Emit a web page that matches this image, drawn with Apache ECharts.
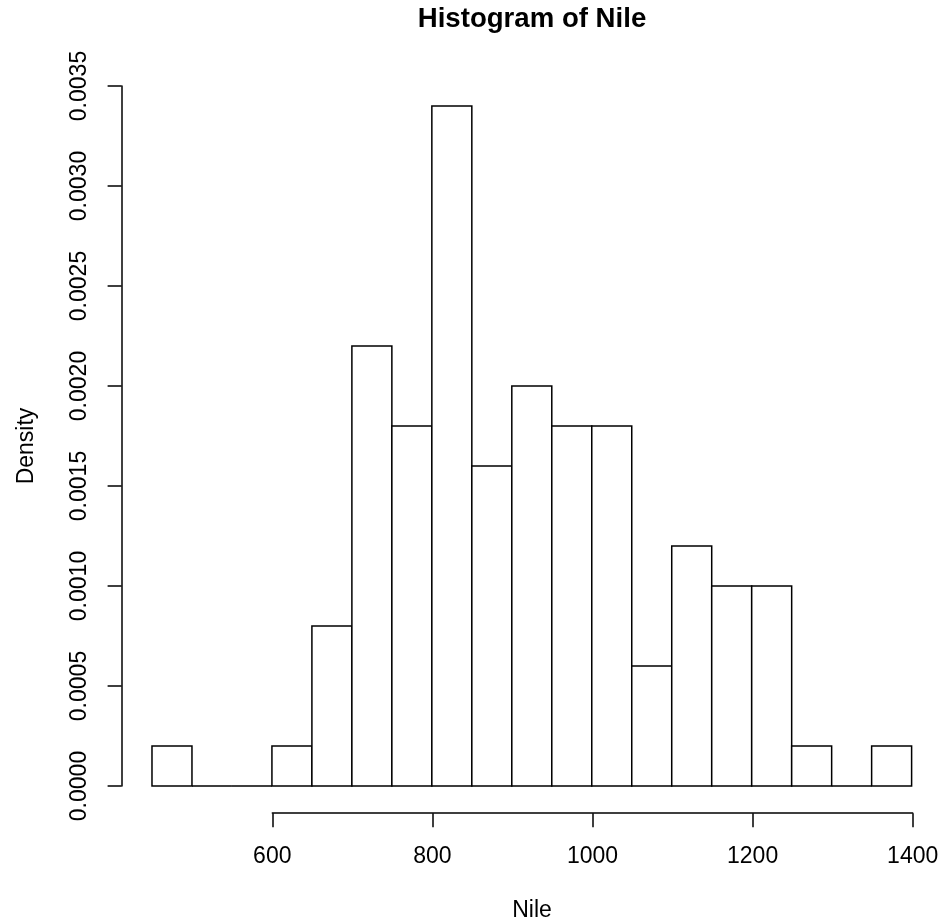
<!DOCTYPE html>
<html>
<head>
<meta charset="utf-8">
<title>Histogram of Nile</title>
<script src="https://cdn.jsdelivr.net/npm/echarts@6/dist/echarts.min.js"></script>
<style>
  html, body { margin: 0; padding: 0; background: #ffffff; }
  #chart { width: 942px; height: 924px; }
</style>
</head>
<body>
<div id="chart"></div>
<script>
// histogram bins (left / right break) and density per bin
var binStart = [450, 500, 550, 600, 650, 700, 750, 800, 850, 900, 950, 1000, 1050, 1100, 1150, 1200, 1250, 1300, 1350];
var binEnd   = [500, 550, 600, 650, 700, 750, 800, 850, 900, 950, 1000, 1050, 1100, 1150, 1200, 1250, 1300, 1350, 1400];
var density  = [0.0002, 0, 0, 0.0002, 0.0008, 0.0022, 0.0018, 0.0034, 0.0016, 0.0020, 0.0018, 0.0018, 0.0006, 0.0012, 0.0010, 0.0010, 0.0002, 0, 0.0002];

var font = '"Liberation Sans", Arial, Helvetica, sans-serif';

var bars = binStart.map(function (s, i) { return [s, binEnd[i], density[i]]; });

var chart = echarts.init(document.getElementById('chart'));

chart.setOption({
  backgroundColor: '#ffffff',
  animation: false,
  textStyle: { fontFamily: font, color: '#000' },
  grid: [
    // plot region (bars + y axis)
    { left: 121.6, right: -1, top: 86, bottom: 138 },
    // x axis sits below, only spans the pretty ticks
    { left: 272.3, right: 29.3, top: 86, bottom: 110.8 }
  ],
  xAxis: [
    { gridIndex: 0, type: 'value', min: 412, max: 1438, show: false },
    {
      gridIndex: 1, type: 'value', min: 600, max: 1400, interval: 200,
      axisLine: { show: true, lineStyle: { color: '#000', width: 1.5 } },
      axisTick: { show: true, length: 14, lineStyle: { color: '#000', width: 1.5 } },
      axisLabel: { color: '#000', fontSize: 23, fontFamily: font, margin: 32,
        formatter: function (v) { return String(v); } },
      splitLine: { show: false }
    }
  ],
  yAxis: [
    {
      gridIndex: 0, type: 'value', min: 0, max: 0.0035, interval: 0.0005,
      axisLine: { show: true, lineStyle: { color: '#000', width: 1.5 } },
      axisTick: { show: true, length: 14, lineStyle: { color: '#000', width: 1.5 } },
      axisLabel: { color: '#000', fontSize: 23, fontFamily: font, margin: 30, rotate: 90,
        formatter: function (v) { return v.toFixed(4); } },
      splitLine: { show: false }
    },
    { gridIndex: 1, type: 'value', min: 0, max: 1, show: false }
  ],
  graphic: [
    { type: 'text', x: 532, y: 19,
      style: { text: 'Histogram of Nile', font: 'bold 27.6px ' + font, fill: '#000', align: 'center', verticalAlign: 'middle' } },
    { type: 'text', x: 532, y: 911,
      style: { text: 'Nile', font: '23px ' + font, fill: '#000', align: 'center', verticalAlign: 'middle' } },
    { type: 'text', x: 27, y: 446, rotation: Math.PI / 2,
      style: { text: 'Density', font: '23px ' + font, fill: '#000', align: 'center', verticalAlign: 'middle' } }
  ],
  series: [
    {
      type: 'custom',
      xAxisIndex: 0, yAxisIndex: 0,
      data: bars,
      renderItem: function (params, api) {
        var p0 = api.coord([api.value(0), api.value(2)]);
        var p1 = api.coord([api.value(1), 0]);
        return {
          type: 'rect',
          shape: { x: p0[0], y: p0[1], width: p1[0] - p0[0], height: p1[1] - p0[1] },
          style: { fill: '#ffffff', stroke: '#000000', lineWidth: 1.5 }
        };
      }
    },
    { type: 'custom', xAxisIndex: 1, yAxisIndex: 1, data: [], renderItem: function () { return null; } }
  ]
});
</script>
</body>
</html>
